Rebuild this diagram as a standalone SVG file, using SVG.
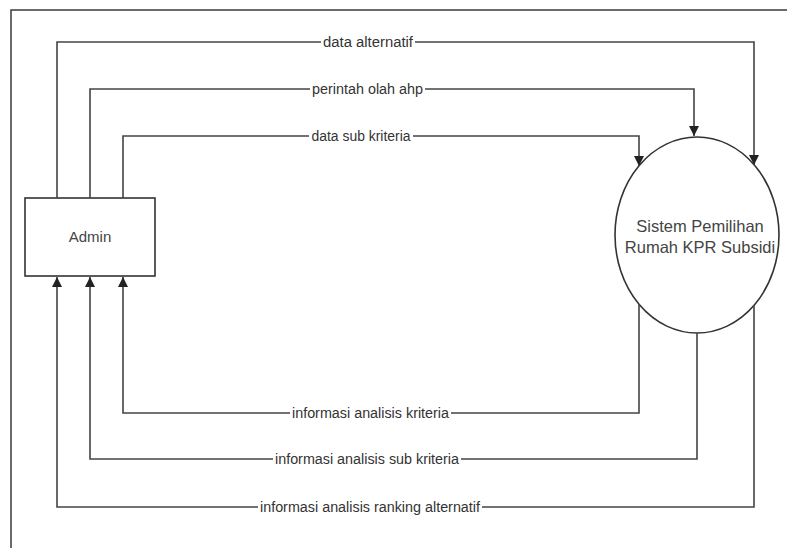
<svg xmlns="http://www.w3.org/2000/svg" width="787" height="548" viewBox="0 0 787 548">
  <style>
    .frame { fill: none; stroke: #3a3a3a; stroke-width: 1.5; }
    .flow { fill: none; stroke: #444; stroke-width: 1.6; }
    .shape { fill: #fff; stroke: #333; stroke-width: 1.6; }
    .lbl { font-family: "Liberation Sans", Arial, sans-serif; font-size: 14px; fill: #333; text-anchor: middle; }
    .node-text { font-family: "Liberation Sans", Arial, sans-serif; fill: #444; text-anchor: middle; }
    .lblbg { fill: #fff; }
  </style>
  <defs>
    <marker id="arrow" viewBox="0 0 10 10" refX="10" refY="5" markerWidth="10" markerHeight="11" markerUnits="userSpaceOnUse" orient="auto">
      <path d="M0,0 L10,5 L0,10 Z" fill="#222"/>
    </marker>
  </defs>
  <rect width="787" height="548" fill="#fff"/>

  <!-- page border -->
  <path class="frame" d="M11,548 V10 H787"/>

  <!-- nodes -->
  <g id="admin">
    <rect class="shape" x="25" y="198" width="130" height="78"/>
    <text class="node-text" x="90" y="242" font-size="15">Admin</text>
  </g>

  <g id="sistem">
    <ellipse class="shape" cx="697" cy="235" rx="82" ry="98"/>
    <text class="node-text" x="700" y="232" font-size="16.5">Sistem Pemilihan</text>
    <text class="node-text" x="700" y="253" font-size="16.5">Rumah KPR Subsidi</text>
  </g>

  <!-- data flows -->
  <g id="connectors">
    <!-- Admin -> Sistem -->
    <path class="flow" d="M57,198 V42 H754 V165" marker-end="url(#arrow)"/>
    <path class="flow" d="M90,198 V89 H694 V136" marker-end="url(#arrow)"/>
    <path class="flow" d="M123,198 V136 H639 V166" marker-end="url(#arrow)"/>
    <!-- Sistem -> Admin -->
    <path class="flow" d="M639,304 V413 H123 V277" marker-end="url(#arrow)"/>
    <path class="flow" d="M697,333 V459 H90 V277" marker-end="url(#arrow)"/>
    <path class="flow" d="M754,305 V507 H57 V277" marker-end="url(#arrow)"/>

    <!-- flow labels -->
    <rect class="lblbg" x="321" y="34" width="94" height="16"/>
    <text class="lbl" x="368" y="47" textLength="90" lengthAdjust="spacingAndGlyphs">data alternatif</text>

    <rect class="lblbg" x="310" y="81" width="115" height="16"/>
    <text class="lbl" x="367.5" y="94" textLength="111" lengthAdjust="spacingAndGlyphs">perintah olah ahp</text>

    <rect class="lblbg" x="309" y="128" width="104" height="16"/>
    <text class="lbl" x="361" y="141" textLength="99" lengthAdjust="spacingAndGlyphs">data sub kriteria</text>

    <rect class="lblbg" x="290" y="405" width="161" height="16"/>
    <text class="lbl" x="370.5" y="418" textLength="157" lengthAdjust="spacingAndGlyphs">informasi analisis kriteria</text>

    <rect class="lblbg" x="273" y="451" width="188" height="16"/>
    <text class="lbl" x="367" y="464" textLength="184" lengthAdjust="spacingAndGlyphs">informasi analisis sub kriteria</text>

    <rect class="lblbg" x="258" y="499" width="224" height="16"/>
    <text class="lbl" x="370" y="512" textLength="220" lengthAdjust="spacingAndGlyphs">informasi analisis ranking alternatif</text>
  </g>
</svg>
